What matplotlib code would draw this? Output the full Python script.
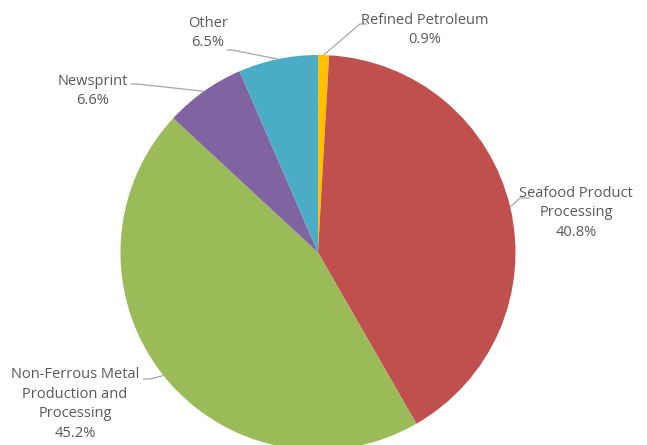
import numpy as np
import matplotlib.pyplot as plt

W, H = 647, 445

labels = ['Refined Petroleum', 'Seafood Product\nProcessing', 'Non-Ferrous Metal\nProduction and\nProcessing',
          'Newsprint', 'Other']
shares = [0.9, 40.8, 45.2, 6.6, 6.5]
colors = ['#FFC000', '#C0504D', '#9BBB59', '#8064A2', '#4BACC6']

# label layout in pixels from the top-left corner: text centre, elbow start, elbow end
text_xy = [(425, 30), (576, 213), (75, 404), (93, 91), (208, 33)]
elbow = [((367, 24), (360, 24)), ((530, 198), (520, 198)), ((143, 379), (150, 379)),
         ((131, 84), (137, 84)), ((227, 50), (232, 50))]

cx, cy, r = 318, 252.5, 197.5

fig = plt.figure(figsize=(W / 100, H / 100), dpi=100)
ax = fig.add_axes([0, 0, 1, 1])

wedges, _ = ax.pie(shares, colors=colors, startangle=90, counterclock=False,
                   center=(cx, H - cy), radius=r, frame=True,
                   wedgeprops=dict(linewidth=0))
ax.set_xlim(0, W)
ax.set_ylim(0, H)
ax.set_aspect('equal')
ax.axis('off')

start = 0.0
for lab, v, (tx, ty), (e0, e1) in zip(labels, shares, text_xy, elbow):
    mid = start + v / 2
    start += v
    ang = np.deg2rad(90 - mid * 3.6)
    px, py = cx + r * np.cos(ang), cy - r * np.sin(ang)
    ax.plot([e0[0], e1[0], px], [H - e0[1], H - e1[1], H - py],
            color='#A6A6A6', lw=0.9, solid_capstyle='butt')
    ax.text(tx, H - ty, f'{lab}\n{v:.1f}%', ha='center', va='center',
            fontsize=10.5, color='#595959', family='Open Sans', linespacing=1.45)

fig.savefig('out.png', dpi=100)
